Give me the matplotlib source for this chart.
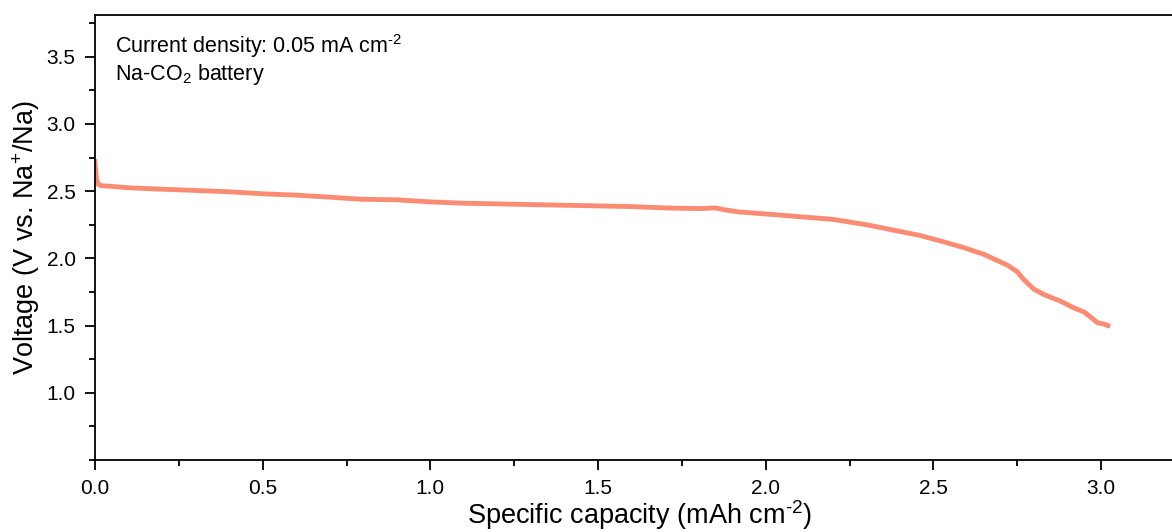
import matplotlib
matplotlib.use("Agg")
from matplotlib import pyplot as plt
from matplotlib.ticker import MultipleLocator

plt.rcParams['font.family'] = ['Liberation Sans', 'DejaVu Sans']
plt.rcParams['mathtext.fontset'] = 'custom'
plt.rcParams['mathtext.rm'] = 'Liberation Sans'
plt.rcParams['mathtext.default'] = 'regular'

# discharge curve
capacity = [0.0, 0.002, 0.005, 0.01, 0.02, 0.05, 0.1, 0.19, 0.3, 0.4, 0.5, 0.6, 0.7,
            0.79, 0.9, 1.0, 1.1, 1.2, 1.3, 1.4, 1.5, 1.6, 1.7, 1.8, 1.85, 1.88,
            1.92, 2.0, 2.1, 2.2, 2.3, 2.34, 2.4, 2.46, 2.52, 2.59, 2.65, 2.72,
            2.75, 2.77, 2.8, 2.83, 2.88, 2.92, 2.95, 2.99, 3.01, 3.02]
voltage = [2.72, 2.65, 2.58, 2.55, 2.54, 2.535, 2.525, 2.515, 2.505, 2.495, 2.48,
           2.47, 2.455, 2.44, 2.435, 2.42, 2.41, 2.405, 2.40, 2.395, 2.39, 2.385,
           2.375, 2.37, 2.375, 2.36, 2.345, 2.33, 2.31, 2.29, 2.25, 2.23, 2.20,
           2.17, 2.13, 2.08, 2.03, 1.95, 1.90, 1.84, 1.77, 1.73, 1.68, 1.63, 1.60,
           1.52, 1.51, 1.50]

fig = plt.figure(figsize=(11.72, 5.32), dpi=100)
# the axes run a little past the right edge of the picture, as in the original
ax = fig.add_axes([95 / 1172, 1 - 460 / 532, 1090 / 1172, 445 / 532])

ax.plot(capacity, voltage, color="#FA8C74", lw=3.5)

ax.set_xlim(0, 3.25)
ax.set_ylim(0.5, 3.81)
ax.xaxis.set_major_locator(MultipleLocator(0.5))
ax.xaxis.set_minor_locator(MultipleLocator(0.25))
ax.yaxis.set_minor_locator(MultipleLocator(0.25))
ax.set_yticks([1.0, 1.5, 2.0, 2.5, 3.0, 3.5])
ax.tick_params(which="major", direction="out", length=7, width=1.3, labelsize=15, pad=7)
ax.tick_params(which="minor", direction="out", length=4, width=1.3)
for s in ["left", "bottom", "top"]:
    ax.spines[s].set_linewidth(1.3)
ax.spines["right"].set_visible(False)

ax.set_xlabel("Specific capacity (mAh cm$^{\\text{-2}}$)", fontsize=19.5, labelpad=0)
ax.set_ylabel("Voltage (V vs. Na$^{+}$/Na)", fontsize=19.5, labelpad=3.5)

ax.text(0.06, 3.53, "Current density: 0.05 mA cm$^{\\text{-2}}$", fontsize=15.5, va="baseline")
ax.text(0.06, 3.33, "Na-CO$_{2}$ battery", fontsize=15.5, va="baseline")

fig.savefig("out.png", dpi=100)
